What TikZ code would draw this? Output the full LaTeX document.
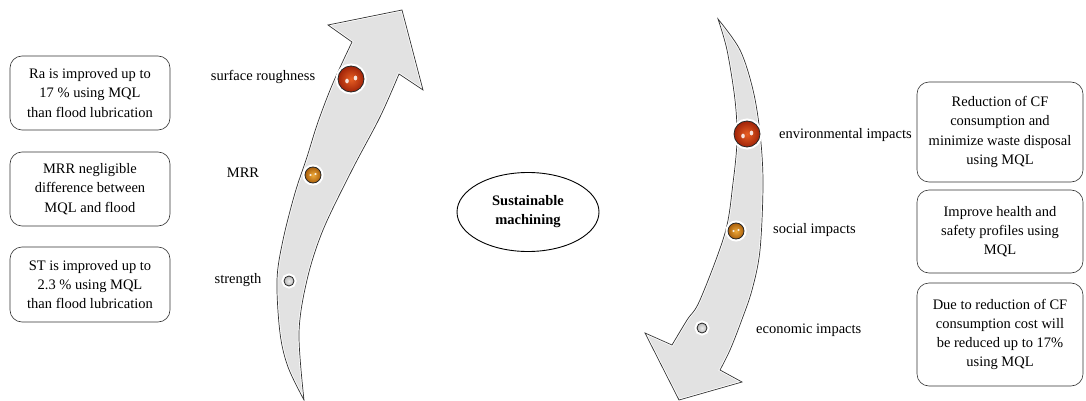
\documentclass[tikz,border=0pt]{standalone}
\usepackage{fontspec}
\setmainfont{Liberation Serif}
\usetikzlibrary{shapes.geometric}
\definecolor{arrowfill}{RGB}{226,226,226}
\definecolor{ballAin}{RGB}{232,95,35}
\definecolor{ballAout}{RGB}{160,35,8}
\definecolor{ballBin}{RGB}{238,170,60}
\definecolor{ballBout}{RGB}{170,95,10}
\definecolor{ballCin}{RGB}{235,235,235}
\definecolor{ballCout}{RGB}{185,185,185}
\begin{document}
\begin{tikzpicture}[x=1pt,y=-1pt,
  infobox/.style={draw=black!80, line width=0.6pt, rounded corners=12pt, align=center,
    font=\fontsize{14.5}{19.3}\selectfont, inner sep=0pt},
  lbl/.style={font=\fontsize{14.5}{17}\selectfont, inner sep=0pt},
  ballnode/.style={circle, inner sep=0pt, draw=black!85, line width=0.8pt, shading=radial,
    preaction={draw=white, line width=5pt}},
  ballA/.style={ballnode, inner color=ballAin, outer color=ballAout},
  ballB/.style={ballnode, inner color=ballBin, outer color=ballBout},
  ballC/.style={ballnode, inner color=ballCin, outer color=ballCout},
  gloss/.style={fill=white, opacity=0.85},
  arrowshape/.style={fill=arrowfill},
  arrowline/.style={draw=black!80, line width=0.7pt, line join=miter}
]
\useasboundingbox (0,0) rectangle (1086,401);

% left arrow
\def\pathL{(352,42) -- (328,25) -- (402,10) -- (423,90) -- (399,74)
  -- plot[smooth, tension=0.55] coordinates {(399,74) (380,117) (352,170) (323,230) (307,280) (299,333) (304,400)}
  -- plot[smooth, tension=0.55] coordinates {(304,400) (288,367) (280,333) (277,280) (283,240) (295,193) (307,157) (318,122) (333,83) (352,42)} -- cycle}
% right arrow
\def\pathR{(718,19)
  -- plot[smooth, tension=0.55] coordinates {(718,19) (740,50) (753,90) (760,133) (763,183) (760,250) (752,290) (741,322) (730,350) (720,370)}
  -- (742,382) -- (679,400) -- (645,333) -- (672,345)
  -- plot[smooth, tension=0.55] coordinates {(672,345) (687,320) (700,300) (725,233) (733,183) (737,140) (735,100) (727,50) (718,19)} -- cycle}

\fill[arrowshape] \pathL;
\begin{scope}\clip \pathL; \draw[white, line width=2.4pt] \pathL; \end{scope}
\draw[arrowline] \pathL;

\fill[arrowshape] \pathR;
\begin{scope}\clip \pathR; \draw[white, line width=2.4pt] \pathR; \end{scope}
\draw[arrowline] \pathR;

% balls
\node[ballA, minimum size=26pt] (b1) at (351,79) {};
\node[ballB, minimum size=16pt] (b2) at (313,175) {};
\node[ballC, minimum size=10pt] (b3) at (289,281) {};
\node[ballA, minimum size=26pt] (b4) at (747,134) {};
\node[ballB, minimum size=16pt] (b5) at (736,231) {};
\node[ballC, minimum size=10pt] (b6) at (702,328) {};
% glossy highlights
\foreach \b in {b1,b4}{
  \fill[gloss] ([shift={(-4,2)}]\b.center) ellipse (1.8 and 2.4);
  \fill[gloss] ([shift={(4.5,-1)}]\b.center) ellipse (1.8 and 2.4);
}
\foreach \b in {b2,b5}{
  \fill[gloss] ([shift={(-2.5,0)}]\b.center) ellipse (1.3 and 1.1);
  \fill[gloss] ([shift={(2.5,-1)}]\b.center) ellipse (1.3 and 1.1);
}

% labels
\node[lbl] (l1) at (263,77) {surface roughness};
\node[lbl] (l2) at (243,173) {MRR};
\node[lbl] (l3) at (238,280) {strength};
\node[lbl, anchor=west] (l4) at (779,135) {environmental impacts};
\node[lbl, anchor=west] (l5) at (773,230) {social impacts};
\node[lbl, anchor=west] (l6) at (756,330) {economic impacts};

% left boxes
\node[infobox, minimum width=160pt, minimum height=74pt] (bx1) at (90,93)
  {Ra is improved up to\\17 \% using MQL\\than flood lubrication};
\node[infobox, minimum width=160pt, minimum height=74pt] (bx2) at (90,189)
  {MRR negligible\\difference between\\MQL and flood};
\node[infobox, minimum width=160pt, minimum height=75pt] (bx3) at (90,284.5)
  {ST is improved up to\\2.3 \% using MQL\\than flood lubrication};

% right boxes
\node[infobox, minimum width=166pt, minimum height=100pt] (bx4) at (1000,132)
  {Reduction of CF\\consumption and\\minimize waste disposal\\using MQL};
\node[infobox, minimum width=166pt, minimum height=83pt] (bx5) at (1000,231.5)
  {Improve health and\\safety profiles using\\MQL};
\node[infobox, minimum width=166pt, minimum height=103pt] (bx6) at (1000,334.5)
  {Due to reduction of CF\\consumption cost will\\be reduced up to 17\%\\using MQL};

% centre
\node[ellipse, draw=black, line width=0.9pt, minimum width=142pt, minimum height=79pt,
  align=center, inner sep=0pt, font=\fontsize{14.5}{19}\selectfont\bfseries] (sm) at (528,212)
  {Sustainable\\machining};
\end{tikzpicture}
\end{document}
